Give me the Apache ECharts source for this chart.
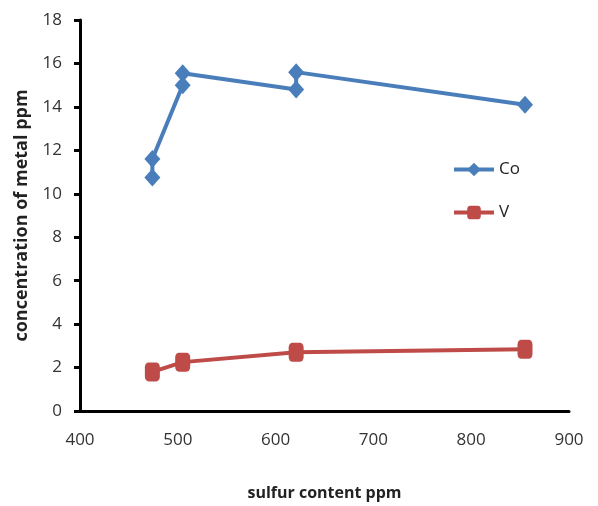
<!DOCTYPE html>
<html>
<head>
<meta charset="utf-8">
<script src="https://cdn.jsdelivr.net/npm/echarts@6/dist/echarts.min.js"></script>
<style>html,body{margin:0;padding:0;background:#fff}#c{width:598px;height:506px}</style>
</head>
<body>
<div id="c"></div>
<script>
const coX = [474, 474, 505, 505, 621, 621, 855];
const coY = [10.75, 11.6, 15.0, 15.55, 14.8, 15.6, 14.1];
const vX = [474, 505, 621, 855];
const vY = [1.8, 2.25, 2.7, 2.84];
const seriesNames = ['Co', 'V'];
const xTitle = 'sulfur content ppm';
const yTitle = 'concentration of metal ppm';

const font = 'Open Sans';
const chart = echarts.init(document.getElementById('c'), null, {renderer: 'canvas'});
chart.setOption({
  animation: false,
  backgroundColor: '#fff',
  grid: {left: 80, right: 29, top: 20, bottom: 93, containLabel: false},
  legend: {
    data: seriesNames,
    orient: 'vertical',
    left: 447,
    top: 156,
    itemWidth: 40,
    itemHeight: 17,
    itemGap: 26,
    lineStyle: {width: 4},
    textStyle: {fontFamily: font, fontSize: 17, color: '#222'}
  },
  xAxis: {
    type: 'value', min: 400, max: 900, interval: 100,
    name: xTitle, nameLocation: 'middle', nameGap: 74,
    nameTextStyle: {fontFamily: font, fontSize: 16, fontWeight: 'bold', color: '#222'},
    axisLine: {lineStyle: {color: '#000', width: 3}},
    axisTick: {show: false},
    axisLabel: {fontFamily: font, fontSize: 17, color: '#333', margin: 21},
    splitLine: {show: false}
  },
  yAxis: {
    type: 'value', min: 0, max: 18, interval: 2,
    name: yTitle, nameLocation: 'middle', nameGap: 49,
    nameTextStyle: {fontFamily: font, fontSize: 18, fontWeight: 'bold', color: '#222'},
    axisLine: {show: true, lineStyle: {color: '#000', width: 3}},
    axisTick: {show: true, length: 6, lineStyle: {color: '#000', width: 3}},
    axisLabel: {fontFamily: font, fontSize: 17, color: '#333', margin: 18},
    splitLine: {show: false}
  },
  series: [
    {
      name: seriesNames[0], type: 'line',
      data: coX.map((x, i) => [x, coY[i]]),
      symbol: 'diamond', symbolSize: [16, 18],
      lineStyle: {color: '#4A7EBB', width: 4},
      itemStyle: {color: '#4A7EBB'}
    },
    {
      name: seriesNames[1], type: 'line',
      data: vX.map((x, i) => [x, vY[i]]),
      symbol: 'roundRect', symbolSize: [15, 19],
      lineStyle: {color: '#BE4B48', width: 4},
      itemStyle: {color: '#BE4B48'}
    }
  ]
});
</script>
</body>
</html>
